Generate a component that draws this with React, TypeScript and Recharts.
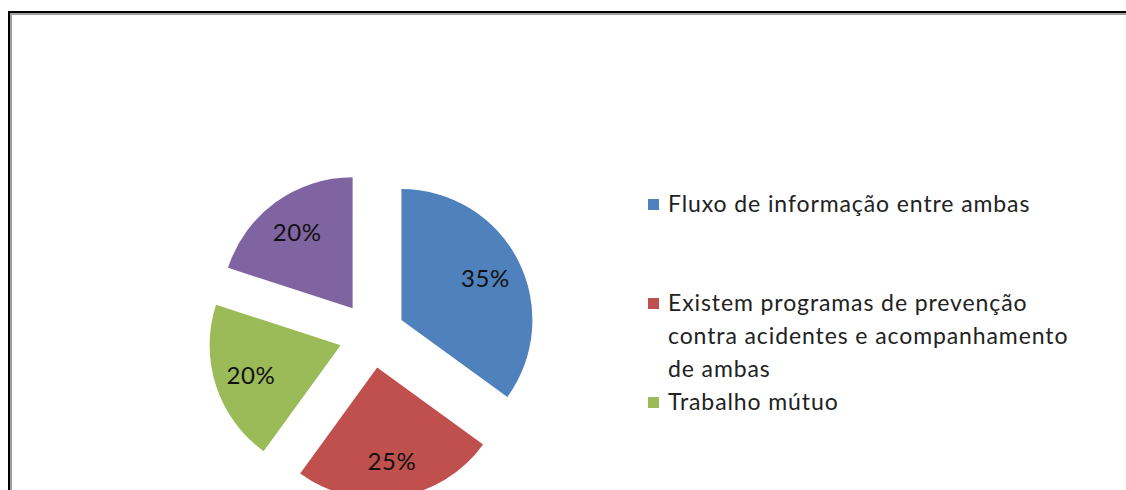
import { Cell, Legend, Pie, PieChart } from 'recharts';

const categories = [
  'Fluxo de informação entre ambas',
  'Existem programas de prevenção contra acidentes e acompanhamento de ambas',
  'Trabalho mútuo',
  'Outros', // legend entry for this slice is cropped out of the picture
];
const shares = [35, 25, 20, 20];
const colors = ['#4F81BD', '#C0504D', '#9BBB59', '#8064A2'];
const visibleLegendCount = 3;

const CX = 372;
const CY = 335;
const R = 131;
const EXPLODE = 33;
const RADIAN = Math.PI / 180;
const FONT = 'Lato, "Open Sans", sans-serif';

const data = categories.map((name, i) => ({ name, value: shares[i] }));
const total = shares.reduce((a, b) => a + b, 0);

// mid angle of every slice, going clockwise from 12 o'clock
const midAngles = shares.map((v, i) => {
  const before = shares.slice(0, i).reduce((a, b) => a + b, 0);
  return 90 - (360 * (before + v / 2)) / total;
});

const renderLabel = (k: number) => (props: any) => {
  if (props.index !== k) return null;
  const dist = props.outerRadius * 0.72;
  const x = props.cx + dist * Math.cos(-props.midAngle * RADIAN);
  const y = props.cy + dist * Math.sin(-props.midAngle * RADIAN);
  return (
    <text
      x={x}
      y={y}
      textAnchor="middle"
      dominantBaseline="central"
      fill="#111"
      fontSize={24}
      letterSpacing={0.6}
      fontFamily={FONT}
    >
      {`${Math.round(props.percent * 100)}%`}
    </text>
  );
};

function LegendList() {
  return (
    <div style={{ fontFamily: FONT, fontSize: 23, letterSpacing: 0.9, lineHeight: '33px', color: '#222' }}>
      {categories.slice(0, visibleLegendCount).map((name, i) => (
        <div key={name} style={{ display: 'flex', minHeight: i === 0 ? 99 : undefined }}>
          <span
            style={{
              width: 11,
              height: 11,
              background: colors[i],
              marginTop: 12,
              marginRight: 9,
              flex: 'none',
            }}
          />
          <span style={{ width: 420 }}>{name}</span>
        </div>
      ))}
    </div>
  );
}

export default function App() {
  return (
    <div style={{ position: 'absolute', left: 0, top: 0, width: 1126, height: 490, overflow: 'hidden', background: '#fff' }}>
      <div
        style={{
          position: 'absolute',
          left: 8,
          top: 11,
          width: 1200,
          height: 600,
          borderLeft: '2px solid #000',
          borderTop: '2px solid #000',
        }}
      >
        <div style={{ width: '100%', height: '100%', borderLeft: '2px solid #a0a0a0', borderTop: '2px solid #a0a0a0' }} />
      </div>
      <div style={{ position: 'absolute', left: 0, top: 0 }}>
        <PieChart width={1126} height={490} margin={{ top: 0, right: 0, bottom: 0, left: 0 }}>
          {shares.map((_, k) => (
            <Pie
              key={k}
              data={data}
              dataKey="value"
              nameKey="name"
              cx={CX + EXPLODE * Math.cos(midAngles[k] * RADIAN)}
              cy={CY - EXPLODE * Math.sin(midAngles[k] * RADIAN)}
              outerRadius={R}
              startAngle={90}
              endAngle={-270}
              stroke="none"
              label={renderLabel(k)}
              labelLine={false}
              legendType="none"
              isAnimationActive={false}
            >
              {data.map((d, i) => (
                <Cell key={d.name} fill={i === k ? colors[i] : 'transparent'} />
              ))}
            </Pie>
          ))}
          <Legend
            layout="vertical"
            align="right"
            verticalAlign="top"
            wrapperStyle={{ left: 648, top: 187, width: 470 }}
            content={() => <LegendList />}
          />
        </PieChart>
      </div>
    </div>
  );
}
